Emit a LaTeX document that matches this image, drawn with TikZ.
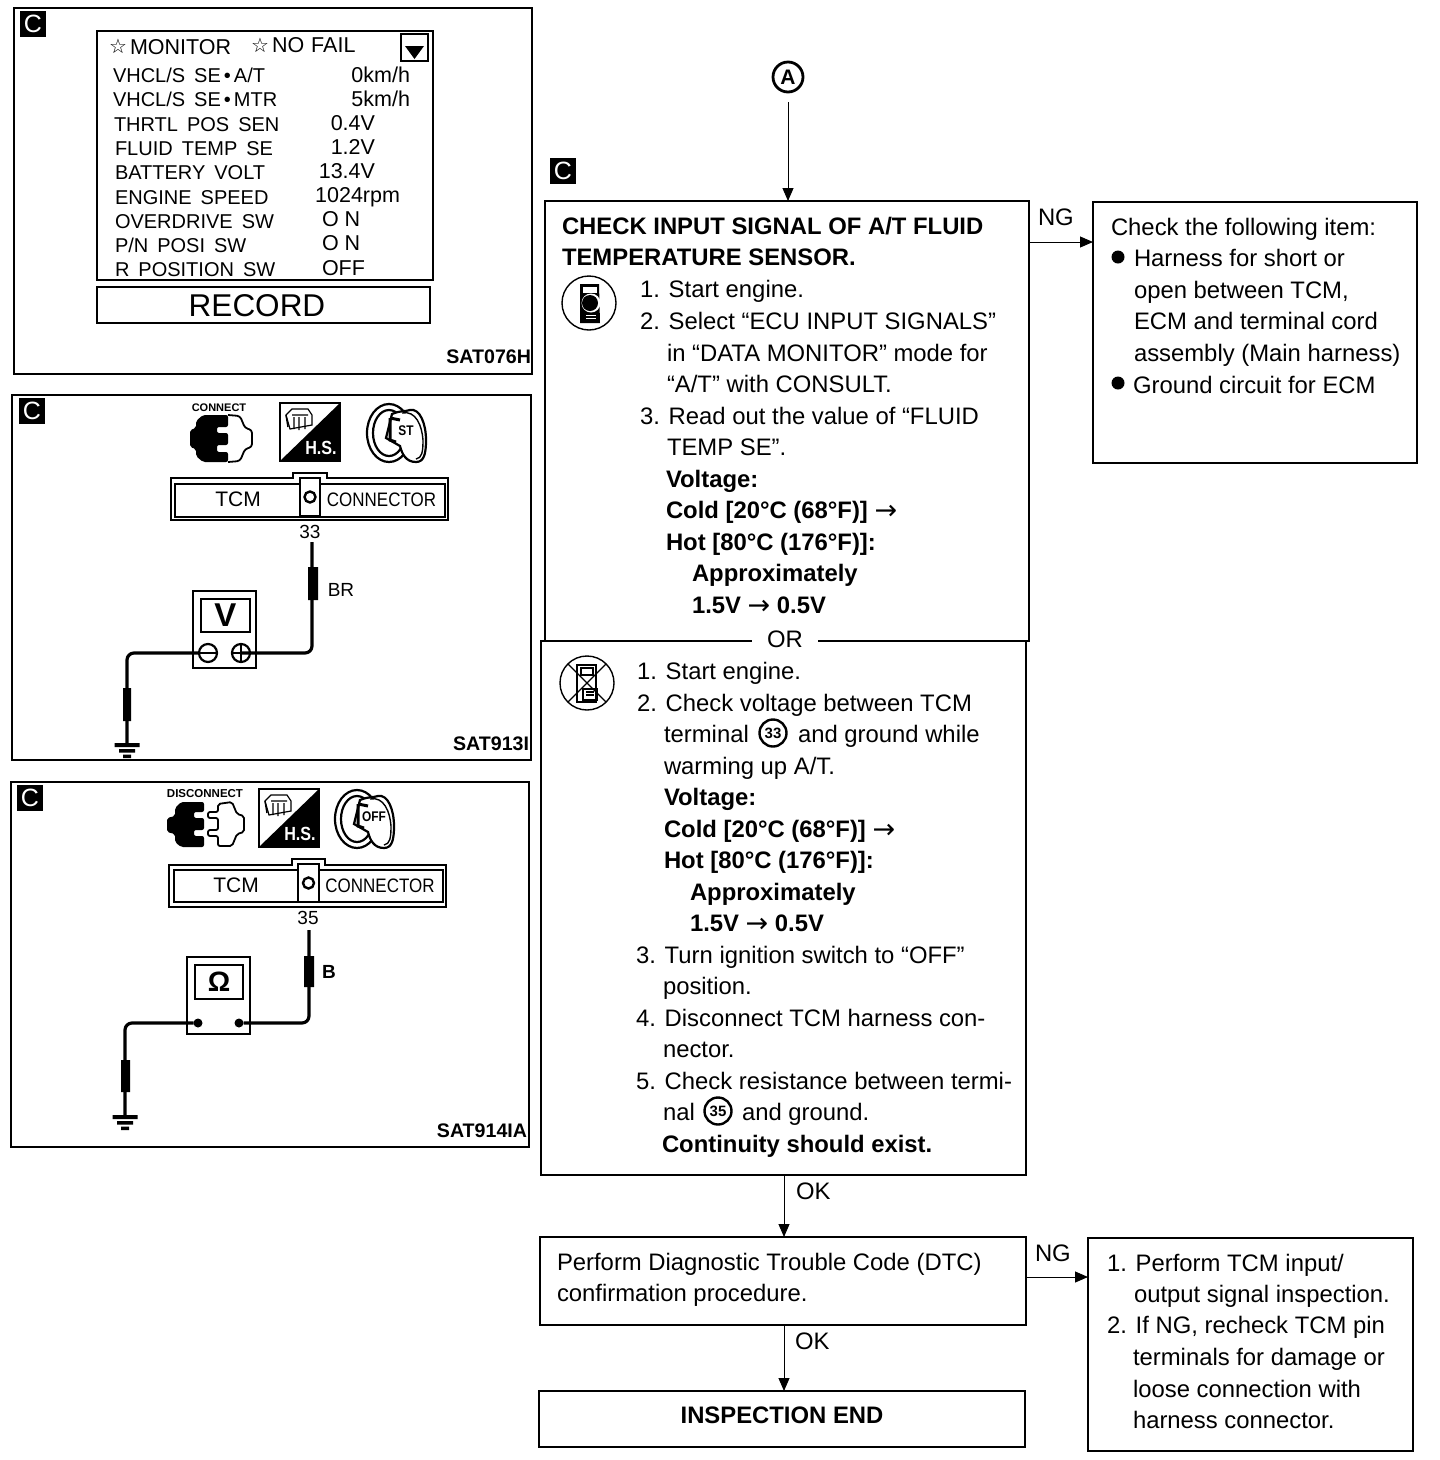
\documentclass[tikz,border=0pt]{standalone}
\usepackage{fontspec}
\setmainfont{Liberation Sans}
\usetikzlibrary{arrows.meta}
\newcounter{tn}
\newcommand{\body}{\fontsize{23.85}{28}\selectfont}
\newcommand{\lcd}{\fontsize{21.5}{26}\selectfont}
\newcommand{\lcl}{\fontsize{20}{26}\selectfont}
\newcommand{\G}{\hspace{9pt}}
\newcommand{\Ar}{\raisebox{-1.5pt}{\fontspec{DejaVu Sans}\mdseries\fontsize{27}{27}\selectfont →}}
\newcommand{\T}[4][]{\stepcounter{tn}\node[lbl,font=\body,#1,name=t\arabic{tn}] at (#2,#3) {#4};}
\newcommand{\B}[4][]{\stepcounter{tn}\node[lbl,font=\body\bfseries,#1,name=t\arabic{tn}] at (#2,#3) {#4};}
\newcommand{\Lc}[4][]{\stepcounter{tn}\node[lbl,font=\lcd,#1,name=t\arabic{tn}] at (#2,#3) {#4};}
\newcommand{\Ll}[3]{\stepcounter{tn}\node[lbl,font=\lcl,name=t\arabic{tn}] at (#1,#2) {#3};}
\newcommand{\Badge}[2]{\stepcounter{tn}\node[badge,name=t\arabic{tn}] at (#1,#2) {C};}
\newcommand{\Circ}[3]{\node[circnum,name=#3] at (#1,#2) {#3};}
\newcommand{\HS}[2]{\begin{scope}[shift={(#1,#2)}]
 \draw[line width=1.8pt,fill=white] (0,0) rectangle (60,58);
 \fill (60,0) -- (60,58) -- (0,58) -- cycle;
 \draw[line width=1.2pt,fill=white] (6,12) -- (12,6) -- (28,6) -- (32,12) -- (32,22) -- (10,26) -- cycle;
 \draw[line width=1.4pt] (6,12) -- (8,24) (12,12) -- (28,12) (14,14) -- (14,26) (19,14) -- (19,27) (25,14) -- (25,26);
 \node[inner sep=0,text=white,font=\fontsize{19}{19}\selectfont\bfseries,xscale=.85] at (41,45) {H.S.};
\end{scope}}
\newcommand{\Key}[3]{\begin{scope}[shift={(#1,#2)}]
 \draw[line width=2.2pt,fill=white] (23,29) ellipse (22 and 29);
 \draw[line width=2.2pt] (23,29) ellipse (16 and 23);
 \draw[line width=2.2pt,fill=white] (26,10) .. controls (36,6) and (38,8) .. (44,6) .. controls (54,4) and (60,20) .. (60,36) .. controls (60,50) and (58,58) .. (50,58) .. controls (40,58) and (36,50) .. (34,42) -- (20,34) -- cycle;
 \draw[line width=1.4pt] (36,9) .. controls (50,6) and (56,22) .. (57,36) .. controls (57,48) and (56,54) .. (50,55);
 \draw[line width=3pt] (24,14) -- (24,36) -- (30,38) (24,14) -- (34,16);
 \node[inner sep=0,font=\fontsize{14}{14}\selectfont\bfseries,xscale=.85] at (40,27) {#3};
\end{scope}}
\newcommand{\Gnd}[2]{\begin{scope}[shift={(#1,#2)}]
 \fill (-12.5,-2) rectangle (12.5,2) (-8,4) rectangle (8,7.5) (-4,9.5) rectangle (4,13);
\end{scope}}
\tikzset{
 every node/.style={outer sep=0},
 lbl/.style={inner sep=0,anchor=base west},
 clbl/.style={inner sep=0,font=\fontsize{21}{22}\selectfont},
 clong/.style={inner sep=0,font=\fontsize{19.5}{22}\selectfont,xscale=.87},
 badge/.style={fill=black,text=white,minimum size=26pt,inner sep=0,font=\fontsize{25}{25}\selectfont},
 circnum/.style={circle,draw,line width=2.4pt,minimum size=27pt,inner sep=0,font=\fontsize{15}{15}\selectfont\bfseries},
 fbox/.style={draw,line width=1.5pt,anchor=north west,inner sep=0},
 arr/.style={line width=1pt,-{Triangle[length=13pt,width=11pt]}},
 wire/.style={line width=3.2pt,rounded corners=7pt},
 probe/.style={fill=black},
 mbox/.style={draw,line width=1.5pt},
 tag/.style={inner sep=0,anchor=base east,font=\fontsize{19.6}{20}\selectfont\bfseries},
}
\begin{document}
\begin{tikzpicture}[x=1pt,y=-1pt]
\useasboundingbox (0,0) rectangle (1440,1460);
\fill[white] (0,0) rectangle (1440,1460);
%% ---------- Panel 1
\node[fbox,line width=1.8pt,minimum width=518pt,minimum height=366pt] (p1) at (14,8) {};
\Badge{33}{24}
\node[mbox,line width=2.2pt,anchor=north west,minimum width=336pt,minimum height=249pt,inner sep=0] (scr) at (97,31) {};
\node[mbox,line width=2.2pt,anchor=north west,minimum width=333pt,minimum height=36pt,inner sep=0] (rec) at (97,287) {};
\node[inner sep=0,font=\fontsize{31.5}{33}\selectfont] (rect) at (257,306) {RECORD};
\node[mbox,line width=2.4pt,anchor=north west,minimum width=27pt,minimum height=27pt,inner sep=0] (dn) at (401,34) {};
\fill (405,46) -- (424,46) -- (414.5,59) -- cycle;
\newcommand{\St}[2]{\node[inner sep=0,font=\fontsize{20}{20}\selectfont] at (#1,#2) {\fontspec{DejaVu Sans}☆};}
\St{118}{46}\St{260}{45}
\Lc{130}{54}{MONITOR}
\Lc{272}{52}{NO\hspace{7pt}FAIL}
\Ll{113}{82}{VHCL/S\G SE\hspace{3pt}•\hspace{3pt}A/T}
\Ll{113}{106}{VHCL/S\G SE\hspace{3pt}•\hspace{3pt}MTR}
\Ll{114}{131}{THRTL\G POS\G SEN}
\Ll{115}{155}{FLUID\G TEMP\G SE}
\Ll{115}{179}{BATTERY\G VOLT}
\Ll{115}{204}{ENGINE\G SPEED}
\Ll{115}{228}{OVERDRIVE\G SW}
\Ll{115}{252}{P/N\G POSI\G SW}
\Ll{115}{276}{R\G POSITION\G SW}
\Lc[anchor=base east]{410}{82}{0km/h}
\Lc[anchor=base east]{410}{106}{5km/h}
\Lc[anchor=base east]{375}{130}{0.4V}
\Lc[anchor=base east]{375}{154}{1.2V}
\Lc[anchor=base east]{375}{178}{13.4V}
\Lc[anchor=base east]{400}{202}{1024rpm}
\Lc{322}{226}{O\hspace{6pt}N}
\Lc{322}{250}{O\hspace{6pt}N}
\Lc{322}{275}{OFF}
\node[tag] (s1) at (531,363) {SAT076H};
%% ---------- Panel 2
\node[fbox,line width=1.8pt,minimum width=519pt,minimum height=365pt] (p2) at (12,395) {};
\Badge{32}{411}
\node[inner sep=0,font=\fontsize{11}{11}\selectfont\bfseries] (conn) at (219,408) {CONNECT};
\fill[rounded corners=2pt] (190,430) -- (196,428) -- (196,421) -- (203,415) -- (228,415) -- (228,427) -- (217,427) -- (217,433) -- (228,433) -- (228,445) -- (217,445) -- (217,452) -- (228,452) -- (228,462) -- (203,462) -- (196,456) -- (196,449) -- (190,447) -- cycle;
\draw[line width=1.8pt,rounded corners=3pt] (228,415) -- (240,416) -- (245,428) -- (252,430) -- (252,447) -- (245,449) -- (240,461) -- (228,462);
\HS{280}{403}
\Key{366}{404}{ST}
\draw[line width=2.6pt] (171,478) -- (293,478) -- (293,473) -- (327,473) -- (327,478) -- (448,478) -- (448,520) -- (171,520) -- cycle;
\node[mbox,line width=2.6pt,anchor=north west,minimum width=270pt,minimum height=33pt,inner sep=0] (c2) at (175,484) {};
\node[mbox,line width=2.4pt,fill=white,anchor=north west,minimum width=20pt,minimum height=38pt,inner sep=0] (c2m) at (300,478) {};
\draw[line width=2.4pt] (c2m) circle (5.5);
\node[clbl] (tcm2) at (238,499) {TCM};
\node[clong] (con2) at (381.5,500) {CONNECTOR};
\node[inner sep=0,font=\fontsize{19}{20}\selectfont] (n33) at (310,532) {33};
\node[mbox,line width=2.4pt,anchor=north west,minimum width=63pt,minimum height=77pt,inner sep=0] (m2) at (193,591) {};
\node[mbox,line width=2.4pt,anchor=north west,minimum width=49pt,minimum height=33pt,inner sep=0] (d2) at (201,599) {};
\node[inner sep=0,font=\fontsize{33}{33}\selectfont\bfseries] (v2) at (d2) {V};
\coordinate (pa2) at (312,542);
\coordinate (ga2) at (127,745);
\node[circle,draw,line width=2.2pt,minimum size=18pt,inner sep=0] (mi2) at (208,653) {};
\node[circle,draw,line width=2.2pt,minimum size=18pt,inner sep=0] (pl2) at (241,653) {};
\draw[wire] (pa2) -- (312,653) -- (pl2.center);
\draw[wire] (mi2.west) -- (ga2 |- mi2) -- (ga2);
\draw[line width=2.2pt] (mi2.west) -- (mi2.east) (pl2.north) -- (pl2.south) (pl2.west) -- (pl2.east);
\fill[probe] (308,567) rectangle (318,600) (123,688) rectangle (131,721);
\Gnd{127}{745}
\node[inner sep=0,font=\fontsize{19}{20}\selectfont] (br) at (341,590) {BR};
\node[tag] (s2) at (529,750) {SAT913I};
%% ---------- Panel 3
\node[fbox,line width=1.8pt,minimum width=518pt,minimum height=365pt] (p3) at (11,782) {};
\Badge{30}{798}
\node[inner sep=0,font=\fontsize{11.5}{12}\selectfont\bfseries] (disc) at (205,794) {DISCONNECT};
\fill[rounded corners=2pt] (167,818) -- (175,816) -- (175,808) -- (181,802) -- (204,802) -- (204,812) -- (194,812) -- (194,818) -- (204,818) -- (204,830) -- (194,830) -- (194,836) -- (204,836) -- (204,847) -- (181,847) -- (175,842) -- (175,834) -- (167,832) -- cycle;
\draw[line width=1.8pt,rounded corners=2pt] (208,812) -- (218,812) -- (218,804) -- (232,802) -- (237,814) -- (244,816) -- (244,832) -- (237,834) -- (232,846) -- (218,846) -- (218,836) -- (208,836) -- (208,830) -- (218,830) -- (218,818) -- (208,818) -- cycle;
\HS{259}{789}
\Key{334}{790}{OFF}
\draw[line width=2.6pt] (169,865) -- (292,865) -- (292,859) -- (325,859) -- (325,865) -- (446,865) -- (446,907) -- (169,907) -- cycle;
\node[mbox,line width=2.6pt,anchor=north west,minimum width=269pt,minimum height=32pt,inner sep=0] (c3) at (174,870) {};
\node[mbox,line width=2.4pt,fill=white,anchor=north west,minimum width=21pt,minimum height=38pt,inner sep=0] (c3m) at (298,864) {};
\draw[line width=2.4pt] (c3m) circle (5.5);
\node[clbl] (tcm3) at (236,885) {TCM};
\node[clong] (con3) at (380,886) {CONNECTOR};
\node[inner sep=0,font=\fontsize{19}{20}\selectfont] (n35) at (308,918) {35};
\node[mbox,line width=2.4pt,anchor=north west,minimum width=63pt,minimum height=77pt,inner sep=0] (m3) at (187,957) {};
\node[mbox,line width=2.4pt,anchor=north west,minimum width=48pt,minimum height=34pt,inner sep=0] (d3) at (195,965) {};
\node[inner sep=0,font=\fontsize{28}{28}\selectfont\bfseries] (o3) at (d3) {Ω};
\coordinate (pa3) at (309,930);
\coordinate (ga3) at (125,1117);
\node[circle,fill=black,minimum size=9pt,inner sep=0] (a3) at (198,1023) {};
\node[circle,fill=black,minimum size=9pt,inner sep=0] (b3) at (239,1023) {};
\draw[wire] (pa3) -- (309,1023) -- (b3);
\draw[wire] (a3) -- (ga3 |- a3) -- (ga3);
\fill[probe] (304,956) rectangle (314,987) (121,1060) rectangle (130,1092);
\Gnd{125}{1117}
\node[inner sep=0,font=\fontsize{19}{20}\selectfont\bfseries] (bl) at (329,972) {B};
\node[tag] (s3) at (527,1137) {SAT914IA};
%% ---------- Flow chart
\node[circle,draw,line width=2.8pt,minimum size=30pt,inner sep=0,font=\fontsize{21}{21}\selectfont\bfseries] (A) at (788,77) {A};
\Badge{563}{171}
\node[fbox,minimum width=484pt,minimum height=440pt] (chk1) at (545,201) {};
\node[fbox,minimum width=485pt,minimum height=534pt] (chk2) at (541,641) {};
\node[fill=white,inner sep=0,minimum width=66pt,minimum height=12pt] (orb) at (785,641) {};
\node[inner sep=0,font=\body] (or) at (785,639) {OR};
\node[fbox,minimum width=324pt,minimum height=261pt] (ng1) at (1093,202) {};
\node[fbox,minimum width=486pt,minimum height=88pt] (dtc) at (540,1237) {};
\node[fbox,minimum width=325pt,minimum height=213pt] (ng2) at (1088,1238) {};
\node[fbox,minimum width=486pt,minimum height=56pt] (end) at (539,1391) {};
\coordinate (ngs1) at (1029,242);
\coordinate (ngs2) at (1026,1277);
\coordinate (oks1) at (784,1175);
\coordinate (oks2) at (784,1325);
\draw[arr,shorten <=10pt] (A) ++(0,15) -- (A |- chk1.north);
\draw[arr] (ngs1) -- (ngs1 -| ng1.west);
\draw[arr] (ngs2) -- (ngs2 -| ng2.west);
\draw[arr] (oks1) -- (oks1 |- dtc.north);
\draw[arr] (oks2) -- (oks2 |- end.north);
\T{1038}{225}{NG}
\T{796}{1199}{OK}
\T{1035}{1261}{NG}
\T{795}{1349}{OK}
% icons
\node[circle,draw,line width=1.4pt,minimum size=54pt,inner sep=0] (ic1) at (589,303) {};
\fill (580,284) -- (599,284) -- (600,323) -- (580,323) -- cycle;
\fill[white] (583,287) rectangle (597,293);
\fill[white] (591,303) circle (9.5);
\fill (590,303) circle (8);
\draw[white,line width=1pt] (586,315) -- (596,315) (586,318) -- (596,318);
\node[circle,draw,line width=1.4pt,minimum size=54pt,inner sep=0] (ic2) at (587,683) {};
\draw[line width=1.2pt] (ic2.north west) -- (ic2.south east) (ic2.north east) -- (ic2.south west);
\draw[line width=1.6pt] (577,665) rectangle (596,702);
\draw[line width=1.4pt] (581,668) rectangle (593,675) (583,689) rectangle (597,700);
\draw[line width=1.2pt] (586,692) -- (594,692) (586,695) -- (594,695);
% top box text
\B{562}{234}{CHECK INPUT SIGNAL OF A/T FLUID}
\B{562}{265}{TEMPERATURE SENSOR.}
\T{640}{297}{1. Start engine.}
\T{640}{329}{2. Select “ECU INPUT SIGNALS”}
\T{667}{361}{in “DATA MONITOR” mode for}
\T{667}{392}{“A/T” with CONSULT.}
\T{640}{424}{3. Read out the value of “FLUID}
\T{667}{455}{TEMP SE”.}
\B{666}{487}{Voltage:}
\B{666}{518}{Cold [20°C (68°F)] \Ar}
\B{666}{550}{Hot [80°C (176°F)]:}
\B{692}{581}{Approximately}
\B{692}{613}{1.5V \Ar\ 0.5V}
% bottom box text
\T{637}{679}{1. Start engine.}
\T{637}{711}{2. Check voltage between TCM}
\T{664}{742}{terminal}
\Circ{773}{733}{33}
\T{798}{742}{and ground while}
\T{664}{774}{warming up A/T.}
\B{664}{805}{Voltage:}
\B{664}{837}{Cold [20°C (68°F)] \Ar}
\B{664}{868}{Hot [80°C (176°F)]:}
\B{690}{900}{Approximately}
\B{690}{931}{1.5V \Ar\ 0.5V}
\T{636}{963}{3. Turn ignition switch to “OFF”}
\T{663}{994}{position.}
\T{636}{1026}{4. Disconnect TCM harness con-}
\T{663}{1057}{nector.}
\T{636}{1089}{5. Check resistance between termi-}
\T{663}{1120}{nal}
\Circ{718}{1111}{35}
\T{742}{1120}{and ground.}
\B{662}{1152}{Continuity should exist.}
% NG box
\T{1111}{235}{Check the following item:}
\node[circle,fill=black,minimum size=13pt,inner sep=0] (b1) at (1118,257) {};
\T{1134}{266}{Harness for short or}
\T{1134}{298}{open between TCM,}
\T{1134}{329}{ECM and terminal cord}
\T{1134}{361}{assembly (Main harness)}
\node[circle,fill=black,minimum size=13pt,inner sep=0] (b2) at (1118,383) {};
\T{1133}{393}{Ground circuit for ECM}
% DTC
\T{557}{1270}{Perform Diagnostic Trouble Code (DTC)}
\T{557}{1301}{confirmation procedure.}
\B[anchor=base]{782}{1423}{INSPECTION END}
% NG2
\T{1107}{1271}{1. Perform TCM input/}
\T{1134}{1302}{output signal inspection.}
\T{1107}{1333}{2. If NG, recheck TCM pin}
\T{1133}{1365}{terminals for damage or}
\T{1133}{1397}{loose connection with}
\T{1133}{1428}{harness connector.}
\end{tikzpicture}
\end{document}
